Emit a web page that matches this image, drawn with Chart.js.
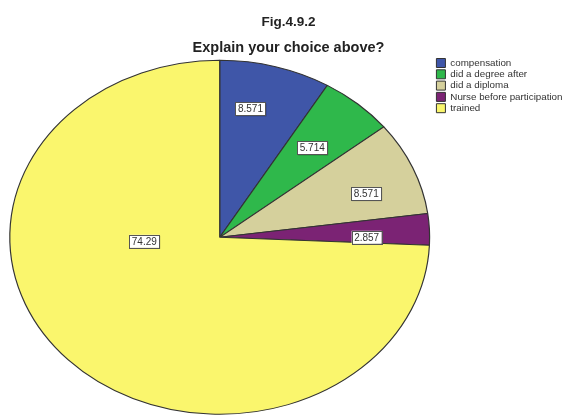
<!DOCTYPE html>
<html>
<head>
<meta charset="utf-8">
<script src="https://cdn.jsdelivr.net/npm/chart.js@4"></script>
<style>
  html, body { margin: 0; padding: 0; background: #fff; overflow: hidden; }
  #wrap { width: 565px; height: 415px; overflow: hidden; }
</style>
</head>
<body>
<div id="wrap"><canvas id="pieChart" width="565" height="418"></canvas></div>
<script>
const categories = ['compensation', 'did a degree after', 'did a diploma', 'Nurse before participation', 'trained'];
const percents = [8.571, 5.714, 8.571, 2.857, 74.29];
const valueLabels = ['8.571', '5.714', '8.571', '2.857', '74.29'];

const sliceColors = [
    '#3f56a8',
    '#2fb84b',
    '#d5d09c',
    '#7b2374',
    '#faf66d'
];

// the reference pie is an ellipse, wider than tall
const stretchX = 1.186;

// where each value box sits: fraction along the slice angle, fraction of radius
const labelSpots = [
    [0.37, 0.74],
    [0.5, 0.67],
    [0.62, 0.74],
    [0.75, 0.70],
    [0.65, 0.36]
];

const stretchPlugin = {
    id: 'stretch',
    beforeDatasetsDraw(chart) {
        const arc = chart.getDatasetMeta(0).data[0];
        const ctx = chart.ctx;
        ctx.save();
        ctx.translate(arc.x, 0);
        ctx.scale(stretchX, 1);
        ctx.translate(-arc.x, 0);
    },
    afterDatasetsDraw(chart) {
        chart.ctx.restore();
    }
};

const valueBoxPlugin = {
    id: 'valueBoxes',
    afterDatasetsDraw(chart) {
        const ctx = chart.ctx;
        ctx.save();
        ctx.font = '10px "Liberation Sans", Arial, sans-serif';
        ctx.textAlign = 'center';
        ctx.textBaseline = 'middle';
        chart.getDatasetMeta(0).data.forEach((arc, i) => {
            const spot = labelSpots[i];
            const ang = arc.startAngle + spot[0] * (arc.endAngle - arc.startAngle);
            const r = spot[1] * arc.outerRadius;
            const px = arc.x + stretchX * r * Math.cos(ang);
            const py = arc.y + r * Math.sin(ang);
            const w = ctx.measureText(valueLabels[i]).width + 5;
            const h = 13;
            // little shadow like spss
            ctx.fillStyle = 'rgba(0,0,0,0.25)';
            ctx.fillRect(px - w / 2 + 1, py - h / 2 + 1, w, h);
            ctx.fillStyle = '#fff';
            ctx.fillRect(px - w / 2, py - h / 2, w, h);
            ctx.strokeStyle = '#555';
            ctx.lineWidth = 1;
            ctx.strokeRect(Math.round(px - w / 2) + 0.5, Math.round(py - h / 2) + 0.5, Math.round(w), h);
            ctx.fillStyle = '#333';
            ctx.fillText(valueLabels[i], px, py + 0.5);
        });
        ctx.restore();
    }
};

const pieChart = new Chart(document.getElementById('pieChart'), {
    type: 'pie',
    data: {
        labels: categories,
        datasets: [{
            data: percents,
            backgroundColor: sliceColors,
            borderColor: '#333',
            borderWidth: 1,
            clip: false
        }]
    },
    options: {
        responsive: false,
        animation: false,
        radius: 177,
        layout: {
            padding: { left: 4.5, right: -7.5, top: 0, bottom: 0 }
        },
        plugins: {
            title: {
                display: true,
                text: 'Fig.4.9.2',
                color: '#222',
                font: { family: '"Liberation Sans", Arial, sans-serif', size: 13.5, weight: 'bold' },
                padding: { top: 14, bottom: 5 }
            },
            subtitle: {
                display: true,
                text: 'Explain your choice above?',
                color: '#222',
                font: { family: '"Liberation Sans", Arial, sans-serif', size: 14.5, weight: 'bold' },
                padding: { top: 4, bottom: 0 }
            },
            legend: {
                position: 'right',
                align: 'start',
                fullSize: false,
                labels: {
                    boxWidth: 9,
                    boxHeight: 9,
                    padding: 1.5,
                    color: '#333',
                    font: { family: '"Liberation Sans", Arial, sans-serif', size: 9.8 }
                }
            },
            tooltip: { enabled: false }
        }
    },
    plugins: [stretchPlugin, valueBoxPlugin]
});
</script>
</body>
</html>
